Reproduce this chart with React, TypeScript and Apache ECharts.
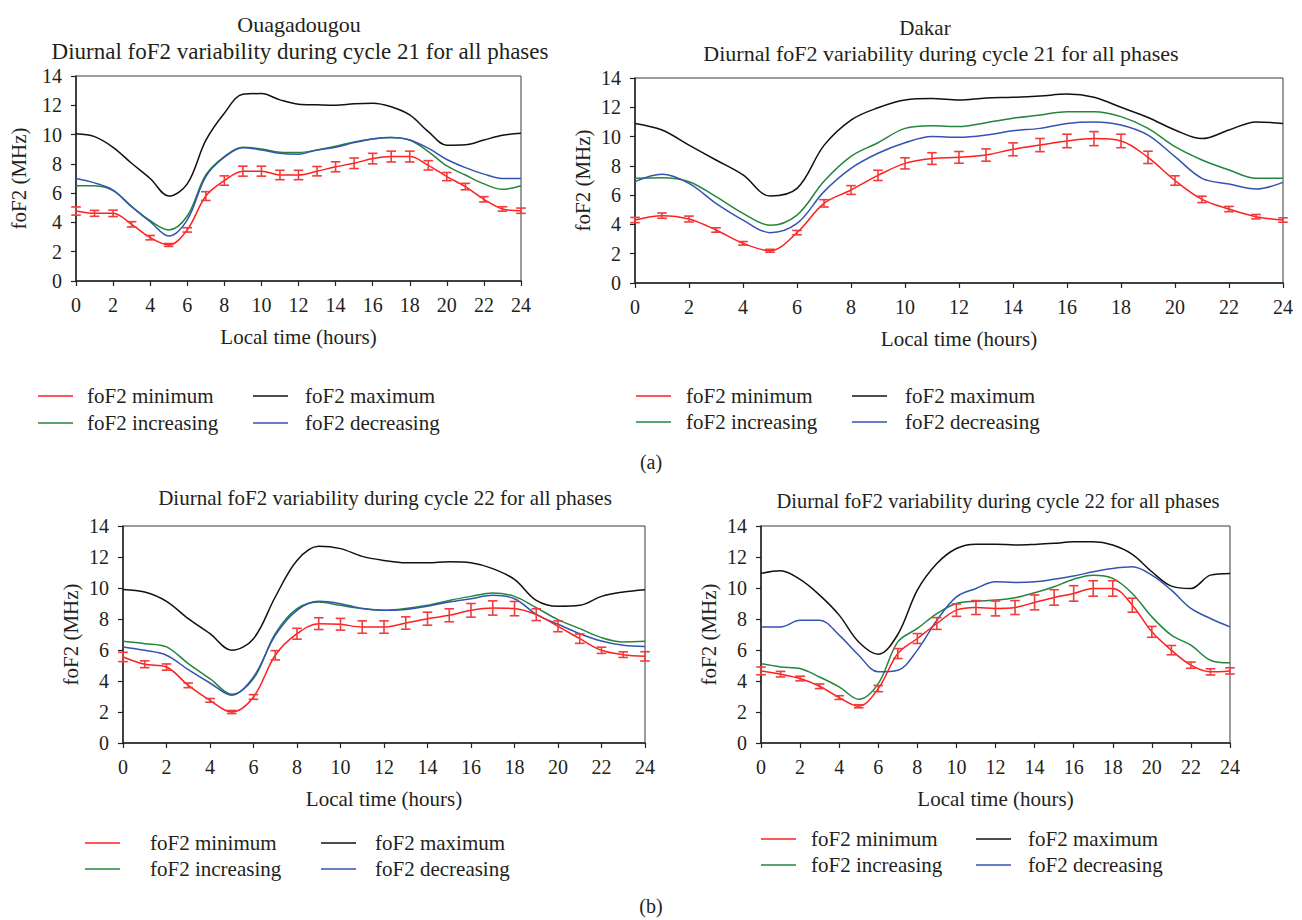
import React, { useEffect, useRef } from "react";
import * as echarts from "echarts";

const HOURS = [0, 1, 2, 3, 4, 5, 6, 7, 8, 9, 10, 11, 12, 13, 14, 15, 16, 17, 18, 19, 20, 21, 22, 23, 24];
const X_TICKS = [0, 2, 4, 6, 8, 10, 12, 14, 16, 18, 20, 22, 24];
const Y_TICKS = [0, 2, 4, 6, 8, 10, 12, 14];

const SERIES_NAMES = ["foF2 minimum", "foF2 maximum", "foF2 increasing", "foF2 decreasing"];
const TITLES = [
  "Diurnal foF2 variability during cycle 21 for all phases",
  "Diurnal foF2 variability during cycle 21 for all phases",
  "Diurnal foF2 variability during cycle 22 for all phases",
  "Diurnal foF2 variability during cycle 22 for all phases",
];
const STATIONS = ["Ouagadougou", "Dakar"];
const PART_LABELS = ["(a)", "(b)"];
const X_NAME = "Local time (hours)";
const Y_NAME = "foF2 (MHz)";

// Ouagadougou, cycle 21
const OUA21_MIN = [4.78, 4.62, 4.62, 3.87, 2.96, 2.46, 3.49, 5.8, 6.86, 7.5, 7.5, 7.24, 7.24, 7.5, 7.8, 8.04, 8.36, 8.5, 8.5, 7.9, 7.13, 6.45, 5.58, 4.92, 4.8];
const OUA21_ERR = [0.28, 0.2, 0.22, 0.18, 0.15, 0.1, 0.15, 0.3, 0.32, 0.34, 0.34, 0.32, 0.32, 0.32, 0.34, 0.36, 0.36, 0.37, 0.37, 0.32, 0.28, 0.22, 0.18, 0.15, 0.18];
const OUA21_MAX = [10.05, 9.86, 9.13, 8.04, 7.0, 5.8, 6.63, 9.6, 11.46, 12.75, 12.8, 12.37, 12.07, 12.03, 12.0, 12.1, 12.14, 11.9, 11.34, 10.2, 9.27, 9.3, 9.63, 9.95, 10.09];
const OUA21_INC = [6.51, 6.5, 6.17, 5.08, 4.12, 3.49, 4.44, 7.24, 8.5, 9.13, 9.02, 8.8, 8.77, 8.95, 9.2, 9.5, 9.7, 9.8, 9.63, 8.84, 7.86, 7.24, 6.63, 6.26, 6.51];
const OUA21_DEC = [7.0, 6.7, 6.2, 5.08, 4.05, 3.07, 4.17, 7.13, 8.45, 9.1, 8.95, 8.72, 8.66, 8.95, 9.13, 9.45, 9.7, 9.8, 9.63, 9.07, 8.3, 7.74, 7.3, 7.0, 7.0];

// Dakar, cycle 21
const DAK21_MIN = [4.3, 4.6, 4.37, 3.62, 2.71, 2.2, 3.44, 5.44, 6.35, 7.35, 8.17, 8.5, 8.58, 8.74, 9.13, 9.42, 9.7, 9.86, 9.7, 8.58, 7.0, 5.71, 5.05, 4.53, 4.3];
const DAK21_ERR = [0.18, 0.18, 0.2, 0.15, 0.12, 0.1, 0.15, 0.25, 0.3, 0.35, 0.38, 0.4, 0.4, 0.42, 0.44, 0.45, 0.46, 0.48, 0.46, 0.42, 0.32, 0.22, 0.18, 0.15, 0.15];
const DAK21_MAX = [10.9, 10.45, 9.42, 8.4, 7.38, 5.94, 6.46, 9.4, 11.13, 11.97, 12.5, 12.6, 12.5, 12.64, 12.68, 12.77, 12.9, 12.68, 12.0, 11.3, 10.45, 9.86, 10.45, 11.0, 10.9];
const DAK21_INC = [7.15, 7.19, 6.92, 5.9, 4.76, 3.94, 4.64, 6.95, 8.65, 9.58, 10.56, 10.74, 10.68, 10.95, 11.25, 11.47, 11.7, 11.7, 11.36, 10.56, 9.31, 8.4, 7.72, 7.15, 7.15];
const DAK21_DEC = [6.92, 7.42, 6.8, 5.44, 4.3, 3.44, 4.07, 6.24, 7.83, 8.86, 9.58, 10.0, 9.95, 10.1, 10.4, 10.56, 10.9, 11.0, 10.79, 10.1, 8.63, 7.15, 6.76, 6.42, 6.87];

// Ouagadougou, cycle 22
const OUA22_MIN = [5.55, 5.08, 4.9, 3.72, 2.75, 2.0, 2.97, 5.66, 7.05, 7.7, 7.66, 7.48, 7.48, 7.74, 8.02, 8.24, 8.56, 8.71, 8.67, 8.28, 7.53, 6.73, 5.98, 5.7, 5.59];
const OUA22_ERR = [0.3, 0.22, 0.2, 0.15, 0.12, 0.1, 0.15, 0.3, 0.35, 0.38, 0.38, 0.4, 0.4, 0.4, 0.42, 0.42, 0.44, 0.46, 0.46, 0.38, 0.35, 0.3, 0.2, 0.18, 0.3];
const OUA22_MAX = [9.91, 9.74, 9.14, 8.02, 7.05, 5.98, 6.73, 9.42, 11.78, 12.69, 12.54, 12.04, 11.78, 11.63, 11.63, 11.7, 11.63, 11.25, 10.55, 9.2, 8.82, 8.88, 9.46, 9.74, 9.89];
const OUA22_INC = [6.56, 6.41, 6.2, 5.12, 4.15, 3.14, 4.15, 7.05, 8.67, 9.1, 8.88, 8.67, 8.56, 8.67, 8.88, 9.2, 9.46, 9.68, 9.46, 8.73, 7.96, 7.38, 6.8, 6.52, 6.56];
const OUA22_DEC = [6.2, 5.98, 5.66, 4.73, 3.87, 3.08, 4.26, 6.95, 8.56, 9.14, 8.99, 8.67, 8.56, 8.62, 8.82, 9.1, 9.31, 9.53, 9.31, 8.3, 7.66, 7.05, 6.58, 6.3, 6.22];

// Dakar, cycle 22
const DAK22_MIN = [4.65, 4.44, 4.16, 3.66, 2.93, 2.37, 3.51, 5.77, 6.74, 7.71, 8.57, 8.74, 8.68, 8.74, 9.07, 9.39, 9.65, 9.97, 9.97, 8.89, 7.17, 5.99, 5.02, 4.59, 4.65];
const DAK22_ERR = [0.25, 0.18, 0.15, 0.15, 0.12, 0.1, 0.2, 0.32, 0.32, 0.38, 0.4, 0.45, 0.48, 0.45, 0.48, 0.5, 0.5, 0.5, 0.5, 0.45, 0.35, 0.3, 0.2, 0.2, 0.2];
const DAK22_MAX = [10.94, 11.11, 10.55, 9.54, 8.25, 6.52, 5.73, 7.0, 9.86, 11.58, 12.55, 12.83, 12.83, 12.77, 12.81, 12.88, 12.98, 12.98, 12.77, 12.17, 11.05, 10.12, 9.97, 10.83, 10.94];
const DAK22_INC = [5.12, 4.91, 4.8, 4.26, 3.62, 2.82, 3.83, 6.52, 7.39, 8.35, 9.0, 9.15, 9.22, 9.37, 9.69, 10.08, 10.57, 10.83, 10.62, 9.65, 8.14, 6.96, 6.31, 5.34, 5.17];
const DAK22_DEC = [7.49, 7.49, 7.92, 7.92, 6.96, 5.66, 4.59, 4.69, 5.99, 7.92, 9.43, 9.97, 10.4, 10.36, 10.4, 10.57, 10.77, 11.05, 11.26, 11.37, 10.83, 9.86, 8.68, 8.03, 7.49];

const FONT = '"Liberation Serif", "Times New Roman", serif';
const TEXT_COLOR = "#231f20";
const RED = "#ff1f1f";
const ERR_RED = "#f03c3c";
const BLACK = "#111111";
const GREEN = "#23863c";
const BLUE = "#3553b0";
const COLORS = [RED, BLACK, GREEN, BLUE];

const PANEL_DATA = [
  { min: OUA21_MIN, err: OUA21_ERR, max: OUA21_MAX, inc: OUA21_INC, dec: OUA21_DEC },
  { min: DAK21_MIN, err: DAK21_ERR, max: DAK21_MAX, inc: DAK21_INC, dec: DAK21_DEC },
  { min: OUA22_MIN, err: OUA22_ERR, max: OUA22_MAX, inc: OUA22_INC, dec: OUA22_DEC },
  { min: DAK22_MIN, err: DAK22_ERR, max: DAK22_MAX, inc: DAK22_INC, dec: DAK22_DEC },
];

const LAYOUT = [
  { grid: { left: 76, top: 76, width: 445, height: 205 }, yGap: 47, title: { x: 300, y: 51, size: 23 }, station: { x: 299, y: 24, size: 22 },
    legend: { c1: 38, t1: 87, c2: 253, t2: 305, y1: 396, y2: 423 } },
  { grid: { left: 635, top: 78, width: 648, height: 205 }, yGap: 42, title: { x: 941, y: 53, size: 22 }, station: { x: 925, y: 28, size: 21 },
    legend: { c1: 636, t1: 686, c2: 852, t2: 905, y1: 396, y2: 422 } },
  { grid: { left: 123, top: 526, width: 522, height: 217 }, yGap: 42, title: { x: 385, y: 498, size: 21 }, station: null,
    legend: { c1: 85, t1: 150, c2: 321, t2: 375, y1: 843, y2: 869 } },
  { grid: { left: 761, top: 526, width: 469, height: 217 }, yGap: 42, title: { x: 998, y: 501, size: 20.5 }, station: null,
    legend: { c1: 761, t1: 811, c2: 976, t2: 1028, y1: 839, y2: 865 } },
];

const PART_POS = [ { x: 651, y: 462 }, { x: 651, y: 906 } ];

function pairs(values: number[]) {
  return HOURS.map((h, i) => [h, values[i]]);
}

function errorRender(params: any, api: any) {
  const x = api.value(0);
  const y = api.value(1);
  const e = api.value(2);
  const top = api.coord([x, y + e]);
  const bot = api.coord([x, y - e]);
  const w = 4.8;
  const style = { stroke: ERR_RED, lineWidth: 1.6 };
  return {
    type: "group",
    children: [
      { type: "line", shape: { x1: top[0], y1: top[1], x2: bot[0], y2: bot[1] }, style },
      { type: "line", shape: { x1: top[0] - w, y1: top[1], x2: top[0] + w, y2: top[1] }, style },
      { type: "line", shape: { x1: bot[0] - w, y1: bot[1], x2: bot[0] + w, y2: bot[1] }, style },
    ],
  };
}

function buildOption() {
  const grids: any[] = [];
  const xAxes: any[] = [];
  const yAxes: any[] = [];
  const series: any[] = [];
  const graphics: any[] = [];

  LAYOUT.forEach((L, i) => {
    grids.push({ ...L.grid, show: true, borderColor: "#3a3a3a", borderWidth: 1, containLabel: false });
    xAxes.push({
      type: "value", gridIndex: i, min: X_TICKS[0], max: X_TICKS[X_TICKS.length - 1], interval: 2,
      name: X_NAME, nameLocation: "middle", nameGap: 45,
      nameTextStyle: { fontFamily: FONT, fontSize: 21, color: TEXT_COLOR },
      axisLine: { show: true, lineStyle: { color: "#222", width: 1.5 } },
      axisTick: { show: true, length: 5, lineStyle: { color: "#222", width: 1.2 } },
      axisLabel: { fontFamily: FONT, fontSize: 20, color: TEXT_COLOR, margin: 14 },
      splitLine: { show: false },
    });
    yAxes.push({
      type: "value", gridIndex: i, min: Y_TICKS[0], max: Y_TICKS[Y_TICKS.length - 1], interval: 2,
      name: Y_NAME, nameLocation: "middle", nameGap: L.yGap, nameRotate: 90,
      nameTextStyle: { fontFamily: FONT, fontSize: 21, color: TEXT_COLOR },
      axisLine: { show: true, lineStyle: { color: "#222", width: 1.5 } },
      axisTick: { show: true, length: 5, lineStyle: { color: "#222", width: 1.2 } },
      axisLabel: { fontFamily: FONT, fontSize: 20, color: TEXT_COLOR, margin: 14 },
      splitLine: { show: false },
    });

    const d = PANEL_DATA[i];
    const lines = [d.min, d.max, d.inc, d.dec];
    lines.forEach((vals, k) => {
      series.push({
        type: "line", name: SERIES_NAMES[k], xAxisIndex: i, yAxisIndex: i,
        data: pairs(vals), smooth: 0.35, symbol: "none",
        lineStyle: { color: COLORS[k], width: 1.5 }, itemStyle: { color: COLORS[k] },
        z: k === 0 ? 4 : 3,
      });
    });
    series.push({
      type: "custom", name: "foF2 minimum error", xAxisIndex: i, yAxisIndex: i,
      data: HOURS.map((h, k) => [h, d.min[k], d.err[k]]),
      renderItem: errorRender, encode: { x: 0, y: 1 }, z: 5,
    });

    if (L.station) {
      graphics.push({ type: "text", x: L.station.x, y: L.station.y,
        style: { text: STATIONS[i], font: `${L.station.size}px ${FONT}`, fill: TEXT_COLOR, textAlign: "center", textVerticalAlign: "middle" } });
    }
    graphics.push({ type: "text", x: L.title.x, y: L.title.y,
      style: { text: TITLES[i], font: `${L.title.size}px ${FONT}`, fill: TEXT_COLOR, textAlign: "center", textVerticalAlign: "middle" } });

    const lg = L.legend;
    const entries = [
      { k: 0, lx: lg.c1, tx: lg.t1, y: lg.y1 },
      { k: 1, lx: lg.c2, tx: lg.t2, y: lg.y1 },
      { k: 2, lx: lg.c1, tx: lg.t1, y: lg.y2 },
      { k: 3, lx: lg.c2, tx: lg.t2, y: lg.y2 },
    ];
    entries.forEach((en) => {
      graphics.push({ type: "line", shape: { x1: en.lx, y1: en.y, x2: en.lx + 35, y2: en.y },
        style: { stroke: COLORS[en.k], lineWidth: 1.6 } });
      graphics.push({ type: "text", x: en.tx, y: en.y,
        style: { text: SERIES_NAMES[en.k], font: `21px ${FONT}`, fill: TEXT_COLOR, textAlign: "left", textVerticalAlign: "middle" } });
    });
  });

  PART_POS.forEach((p, i) => {
    graphics.push({ type: "text", x: p.x, y: p.y,
      style: { text: PART_LABELS[i], font: `20px ${FONT}`, fill: TEXT_COLOR, textAlign: "center", textVerticalAlign: "middle" } });
  });

  return {
    animation: false,
    backgroundColor: "#ffffff",
    grid: grids,
    xAxis: xAxes,
    yAxis: yAxes,
    series,
    graphic: graphics,
  };
}

export default function App() {
  const ref = useRef<HTMLDivElement>(null);
  useEffect(() => {
    if (!ref.current) return;
    const chart = echarts.init(ref.current, undefined, { renderer: "svg" });
    chart.setOption(buildOption());
    return () => chart.dispose();
  }, []);
  return (
    <div
      ref={ref}
      style={{ position: "absolute", left: 0, top: 0, width: 1302, height: 920, background: "#fff" }}
    />
  );
}
